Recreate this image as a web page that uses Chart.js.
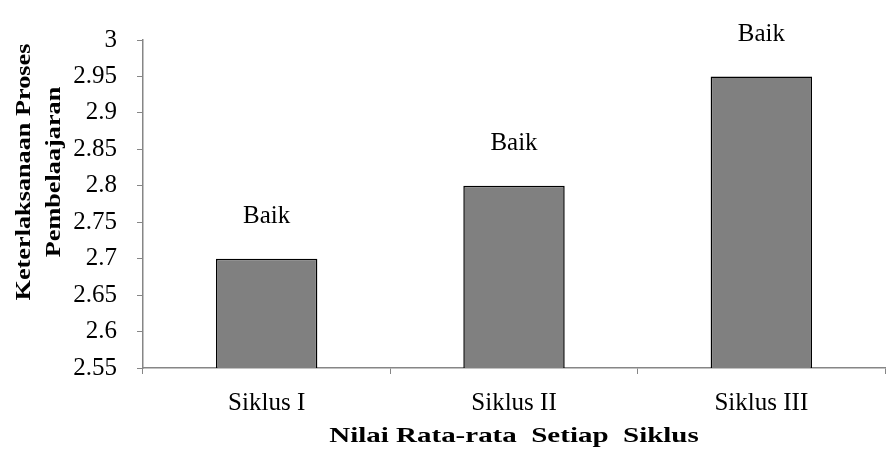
<!DOCTYPE html>
<html>
<head>
<meta charset="utf-8">
<script src="https://cdn.jsdelivr.net/npm/chart.js@4"></script>
<style>
  html, body { margin: 0; padding: 0; background: #ffffff; }
  #wrap { width: 886px; height: 452px; position: relative; }
</style>
</head>
<body>
<div id="wrap"><canvas id="chart" width="886" height="452"></canvas></div>
<script>
// Average implementation score per teaching cycle
const categories = ['Siklus I', 'Siklus II', 'Siklus III'];
const scores = [2.7, 2.8, 2.95];
const ratings = ['Baik', 'Baik', 'Baik'];
const yTicks = [2.55, 2.6, 2.65, 2.7, 2.75, 2.8, 2.85, 2.9, 2.95, 3];
const xTitle = 'Nilai Rata-rata  Setiap  Siklus';
const yTitleLines = ['Keterlaksanaan Proses', 'Pembelaajaran'];

const SERIF = '"Liberation Serif", "Times New Roman", serif';
const AXIS_GREY = '#868686';

// Rating text above each bar
const ratingLabels = {
  id: 'ratingLabels',
  afterDatasetsDraw(chart) {
    const ctx = chart.ctx;
    const meta = chart.getDatasetMeta(0);
    ctx.save();
    ctx.font = '25px ' + SERIF;
    ctx.fillStyle = '#000';
    ctx.textAlign = 'center';
    ctx.textBaseline = 'middle';
    meta.data.forEach((bar, i) => {
      ctx.fillText(ratings[i], bar.x, bar.y - 42);
    });
    ctx.restore();
  }
};

// Axis titles: bold serif, set wide
const axisTitles = {
  id: 'axisTitles',
  afterDraw(chart) {
    const ctx = chart.ctx;
    const area = chart.chartArea;
    ctx.save();
    ctx.font = 'bold 21px ' + SERIF;
    ctx.fillStyle = '#000';
    ctx.textAlign = 'center';
    ctx.textBaseline = 'middle';

    ctx.save();
    ctx.translate((area.left + area.right) / 2, 437);
    ctx.scale(1.38, 1);
    ctx.fillText(xTitle, 0, 0);
    ctx.restore();

    ctx.save();
    ctx.translate(40, 172);
    ctx.rotate(-Math.PI / 2);
    ctx.scale(1.25, 1);
    ctx.fillText(yTitleLines[0], 0, -15);
    ctx.fillText(yTitleLines[1], 0, 15);
    ctx.restore();

    ctx.restore();
  }
};

new Chart(document.getElementById('chart'), {
  type: 'bar',
  data: {
    labels: categories,
    datasets: [{
      data: scores,
      backgroundColor: '#808080',
      borderColor: '#000000',
      borderWidth: 1.5,
      borderSkipped: 'bottom',
      barPercentage: 0.41,
      categoryPercentage: 1.0
    }]
  },
  options: {
    responsive: false,
    animation: false,
    devicePixelRatio: 1,
    layout: { padding: { top: 40, right: 1, left: 0, bottom: 0 } },
    plugins: {
      legend: { display: false },
      tooltip: { enabled: false },
      title: { display: false }
    },
    scales: {
      x: {
        offset: true,
        grid: {
          offset: true,
          drawOnChartArea: false,
          drawTicks: true,
          tickLength: 6,
          color: AXIS_GREY
        },
        border: { display: true, color: AXIS_GREY, width: 1.5 },
        ticks: {
          color: '#000',
          padding: 14,
          font: { family: SERIF, size: 25 }
        },
        afterFit(scale) { scale.height = 84; }
      },
      y: {
        min: 2.55,
        max: 3,
        afterBuildTicks(scale) { scale.ticks = yTicks.map(v => ({ value: v })); },
        grid: {
          drawOnChartArea: false,
          drawTicks: true,
          tickLength: 6,
          color: AXIS_GREY
        },
        border: { display: true, color: AXIS_GREY, width: 1.5 },
        ticks: {
          color: '#000',
          padding: 20,
          font: { family: SERIF, size: 25 },
          callback: (v) => String(Math.round(v * 100) / 100)
        },
        afterFit(scale) { scale.width = 143; }
      }
    }
  },
  plugins: [ratingLabels, axisTitles]
});
</script>
</body>
</html>
